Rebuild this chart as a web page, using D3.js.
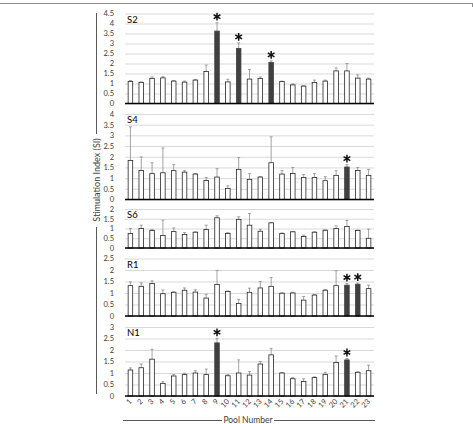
<!DOCTYPE html>
<html>
<head>
<meta charset="utf-8">
<script src="https://cdn.jsdelivr.net/npm/d3@7"></script>
<style>
  body { margin: 0; background: #fff; }
  text { font-family: Lato, "Open Sans", sans-serif; }
</style>
</head>
<body>
<div id="chart"></div>
<script>
// pool numbers on the x axis
const pools = d3.range(1, 24).map(String);

// panel names and y-axis maxima
const panelNames = ["S2", "S4", "S6", "R1", "N1"];
const panelMax = [4.5, 4, 2, 2.5, 3];

// mean SI per pool
const s2Values = [1.1, 1.05, 1.25, 1.28, 1.12, 1.07, 1.17, 1.6, 3.62, 1.08, 2.75, 1.22, 1.25, 2.05, 1.1, 0.93, 0.87, 1.05, 1.12, 1.63, 1.63, 1.27, 1.22];
const s4Values = [1.83, 1.36, 1.21, 1.25, 1.35, 1.28, 1.19, 0.89, 1.05, 0.52, 1.41, 0.94, 1.05, 1.72, 1.19, 1.22, 1.03, 1.03, 0.88, 1.13, 1.52, 1.36, 1.13];
const s6Values = [0.74, 1.0, 0.9, 0.64, 0.84, 0.69, 0.81, 0.95, 1.55, 0.74, 1.47, 1.17, 0.86, 1.29, 0.74, 0.83, 0.59, 0.81, 0.91, 1.0, 1.1, 0.9, 0.5];
const r1Values = [1.32, 1.29, 1.41, 0.97, 1.03, 1.12, 1.04, 0.78, 1.37, 1.07, 0.54, 1.03, 1.22, 1.29, 0.99, 1.0, 0.69, 0.91, 1.12, 1.32, 1.34, 1.38, 1.19];
const n1Values = [1.13, 1.23, 1.6, 0.55, 0.87, 0.93, 1.0, 0.93, 2.31, 0.88, 1.0, 0.91, 1.39, 1.79, 1.0, 0.75, 0.63, 0.8, 0.94, 1.46, 1.57, 1.03, 1.1];

// upper error (SD) per pool
const s2Errors = [0.05, 0.03, 0.08, 0.06, 0.03, 0.05, 0.03, 0.32, 0.42, 0.13, 0.28, 0.48, 0.08, 0.08, 0.02, 0.05, 0.02, 0.12, 0.05, 0.15, 0.37, 0.16, 0.05];
const s4Errors = [1.57, 0.63, 0.51, 1.16, 0.28, 0.07, 0.03, 0.14, 0.39, 0.12, 0.55, 0.27, 0.02, 1.21, 0.16, 0.28, 0.14, 0.18, 0.19, 0.22, 0.11, 0.14, 0.28];
const s6Errors = [0.26, 0.17, 0.05, 0.79, 0.19, 0.1, 0.02, 0.22, 0.1, 0.05, 0.13, 0.6, 0.1, 0.02, 0.03, 0.02, 0.07, 0.02, 0.02, 0.14, 0.31, 0.02, 0.47];
const r1Errors = [0.16, 0.15, 0.12, 0.16, 0.02, 0.1, 0.1, 0.16, 0.61, 0.02, 0.18, 0.18, 0.28, 0.38, 0.02, 0.03, 0.16, 0.02, 0.03, 0.65, 0.07, 0.05, 0.15];
const n1Errors = [0.09, 0.16, 0.43, 0.07, 0.06, 0.06, 0.1, 0.24, 0.2, 0.05, 0.57, 0.15, 0.11, 0.28, 0.02, 0.05, 0.12, 0.03, 0.09, 0.28, 0.06, 0.02, 0.24];

// significant pools (dark bars with asterisk)
const s2Signif = ["9", "11", "14"];
const s4Signif = ["21"];
const s6Signif = [];
const r1Signif = ["21", "22"];
const n1Signif = ["9", "21"];

const panelValues = [s2Values, s4Values, s6Values, r1Values, n1Values];
const panelErrors = [s2Errors, s4Errors, s6Errors, r1Errors, n1Errors];
const panelSignif = [s2Signif, s4Signif, s6Signif, r1Signif, n1Signif];

const width = 473, height = 424;
const left = 125, right = 374;
// pixel top / zero line of each panel
const panelTop = [13.5, 114, 209, 258.5, 327];
const panelBottom = [103.5, 199.5, 248, 316, 396];

const svg = d3.select("#chart").append("svg")
    .attr("width", width)
    .attr("height", height);

// top border
svg.append("line")
    .attr("x1", 0).attr("x2", width)
    .attr("y1", 3.5).attr("y2", 3.5)
    .attr("stroke", "#8c8c8c");
svg.append("line")
    .attr("x1", width - 0.5).attr("x2", width - 0.5)
    .attr("y1", 3).attr("y2", 7)
    .attr("stroke", "#8c8c8c");

const x = d3.scaleBand()
    .domain(pools)
    .range([left, right])
    .paddingInner(0.58)
    .paddingOuter(0.29);

const star = d3.symbol().type(d3.symbolAsterisk).size(42);

panelNames.forEach((name, p) => {
    const y = d3.scaleLinear()
        .domain([0, panelMax[p]])
        .range([panelBottom[p], panelTop[p]]);

    const g = svg.append("g");

    // gridlines + labels
    const yAxis = d3.axisLeft(y)
        .tickValues(d3.range(0, panelMax[p] + 0.01, 0.5))
        .tickSize(-(right - left))
        .tickPadding(11)
        .tickFormat(d3.format("~g"));

    const ag = g.append("g")
        .attr("transform", "translate(" + left + ",0)")
        .call(yAxis);
    ag.select(".domain").remove();
    ag.selectAll(".tick line").attr("stroke", "#d9d9d9");
    ag.selectAll(".tick text")
        .attr("font-size", 7.5)
        .attr("fill", "#404040");

    const vals = panelValues[p], errs = panelErrors[p], sig = panelSignif[p];
    const data = pools.map((d, i) => ({pool: d, v: vals[i], e: errs[i], s: sig.includes(d)}));

    // error bars (upper only)
    const eb = g.selectAll(".err").data(data).enter().append("g");
    eb.append("line")
        .attr("x1", d => x(d.pool) + x.bandwidth() / 2)
        .attr("x2", d => x(d.pool) + x.bandwidth() / 2)
        .attr("y1", d => y(d.v))
        .attr("y2", d => y(d.v + d.e))
        .attr("stroke", "#8c8c8c")
        .attr("stroke-width", 0.8);
    eb.append("line")
        .attr("x1", d => x(d.pool) + x.bandwidth() / 2 - 1.5)
        .attr("x2", d => x(d.pool) + x.bandwidth() / 2 + 1.5)
        .attr("y1", d => y(d.v + d.e))
        .attr("y2", d => y(d.v + d.e))
        .attr("stroke", "#8c8c8c")
        .attr("stroke-width", 0.8);

    // bars
    g.selectAll(".bar").data(data).enter().append("rect")
        .attr("x", d => x(d.pool))
        .attr("width", x.bandwidth())
        .attr("y", d => y(d.v))
        .attr("height", d => y(0) - y(d.v))
        .attr("fill", d => d.s ? "#404040" : "#fff")
        .attr("stroke", d => d.s ? "#404040" : "#262626")
        .attr("stroke-width", 0.8);

    // asterisks
    g.selectAll(".star").data(data.filter(d => d.s)).enter().append("path")
        .attr("d", star)
        .attr("transform", d => "translate(" + (x(d.pool) + x.bandwidth() / 2) + "," + (y(d.v + d.e) - 6) + ")")
        .attr("fill", "none")
        .attr("stroke", "#111")
        .attr("stroke-width", 1.5);

    // zero line
    g.append("line")
        .attr("x1", left).attr("x2", right)
        .attr("y1", y(0)).attr("y2", y(0))
        .attr("stroke", "#000")
        .attr("stroke-width", 1.5);

    // panel label
    g.append("text")
        .attr("x", 127)
        .attr("y", panelTop[p] + 9)
        .attr("font-size", 9.5)
        .attr("fill", "#000")
        .text(name);
});

// x tick labels
svg.append("g").selectAll(".xl").data(pools).enter().append("text")
    .attr("transform", d => "translate(" + (x(d) + x.bandwidth() / 2 + 2) + "," + 402 + ") rotate(-45)")
    .attr("text-anchor", "end")
    .attr("font-size", 7.5)
    .attr("fill", "#404040")
    .text(d => d);

// x axis title with side rules
svg.append("text")
    .attr("x", 248)
    .attr("y", 423)
    .attr("text-anchor", "middle")
    .attr("font-size", 8.5)
    .attr("fill", "#404040")
    .text("Pool Number");
svg.append("line").attr("x1", 123).attr("x2", 222).attr("y1", 420.5).attr("y2", 420.5).attr("stroke", "#595959");
svg.append("line").attr("x1", 274).attr("x2", 375).attr("y1", 420.5).attr("y2", 420.5).attr("stroke", "#595959");

// y axis title with side rules
svg.append("text")
    .attr("transform", "translate(100,180) rotate(-90)")
    .attr("text-anchor", "middle")
    .attr("font-size", 9)
    .attr("fill", "#404040")
    .text("Stimulation Index (SI)");
svg.append("line").attr("x1", 96.5).attr("x2", 96.5).attr("y1", 13).attr("y2", 134).attr("stroke", "#595959");
svg.append("line").attr("x1", 96.5).attr("x2", 96.5).attr("y1", 227).attr("y2", 394).attr("stroke", "#595959");
</script>
</body>
</html>
